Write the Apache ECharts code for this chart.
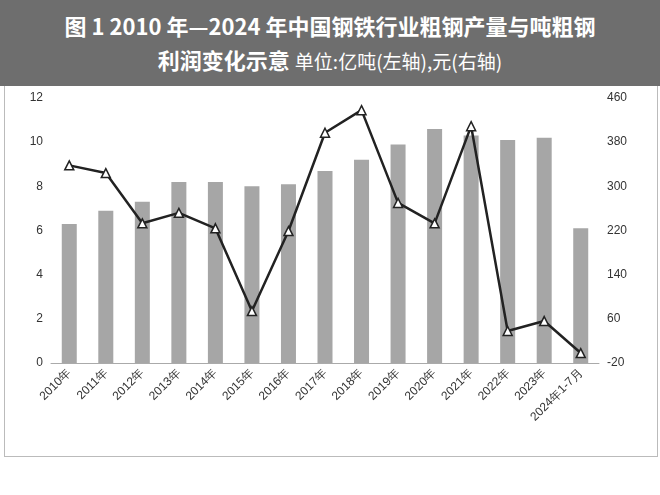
<!DOCTYPE html><html><head><meta charset="utf-8"><script src="https://cdn.jsdelivr.net/npm/echarts@6/dist/echarts.min.js"></script>
<style>body{margin:0;background:#fff}#t{position:absolute;left:0;top:0;width:660px;height:86px;background:#6e6e6e;color:#fff;font-family:"Noto Sans CJK SC";font-weight:bold;font-size:22px;text-align:center;line-height:34px;padding-top:8px;box-sizing:border-box}#t span{font-weight:normal;font-size:19px}#c{position:absolute;left:4px;top:86px;width:652px;height:370px;border:1px solid #bbb;border-top:none}</style></head><body>
<div id="t">图 1 2010 年—2024 年中国钢铁行业粗钢产量与吨粗钢<br>利润变化示意 <span>单位:亿吨(左轴),元(右轴)</span></div>
<div id="c"></div>
<script>
const categories=["2010年","2011年","2012年","2013年","2014年","2015年","2016年","2017年","2018年","2019年","2020年","2021年","2022年","2023年","2024年1-7月"];
const output=[6.3,6.9,7.3,8.2,8.2,8.0,8.1,8.7,9.2,9.9,10.6,10.3,10.1,10.2,6.1];
const profit=[338,324,233,252,224,74,219,397,438,270,233,409,38,56,-2];
const ch=echarts.init(document.getElementById('c'));
ch.setOption({animation:false,
grid:{left:46,right:58,top:12,bottom:93},
xAxis:{type:'category',data:categories,axisTick:{show:false},axisLine:{lineStyle:{color:'#aaa'}},axisLabel:{rotate:45,color:'#333',fontSize:12,interval:0}},
yAxis:[{type:'value',min:0,max:12,interval:2,splitLine:{show:false},axisLabel:{color:'#333',fontSize:12}},
{type:'value',min:-20,max:460,interval:80,splitLine:{show:false},axisLabel:{color:'#333',fontSize:12}}],
series:[{type:'bar',data:output,barWidth:15,itemStyle:{color:'#a6a6a6'}},
{type:'line',yAxisIndex:1,data:profit,symbol:'triangle',symbolSize:9,lineStyle:{color:'#222',width:2.5},itemStyle:{color:'#fff',borderColor:'#222',borderWidth:1.5}}]});
</script></body></html>
